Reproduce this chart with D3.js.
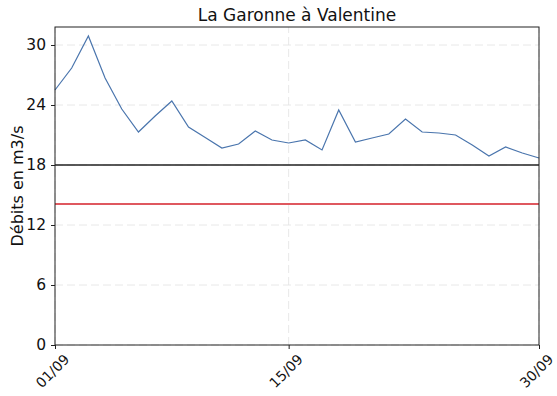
<!DOCTYPE html>
<html>
<head>
<meta charset="utf-8">
<script src="https://cdn.jsdelivr.net/npm/d3@7"></script>
<style>
  html, body { margin: 0; padding: 0; background: #fff; }
  svg { display: block; font-family: "DejaVu Sans", sans-serif; }
</style>
</head>
<body>
<svg id="chart" width="557" height="396"></svg>
<script>
// Daily discharge of the Garonne at Valentine, September
const days = d3.range(1, 31);
const debits = [25.5, 27.7, 30.9, 26.7, 23.6, 21.3, 22.9, 24.4, 21.8, 20.75,
                19.7, 20.1, 21.4, 20.5, 20.2, 20.5, 19.5, 23.5, 20.3, 20.7,
                21.1, 22.6, 21.3, 21.2, 21.0, 20.0, 18.9, 19.8, 19.2, 18.7];
const seuilNoir = 18.0;   // reference threshold (black)
const seuilRouge = 14.1;  // alert threshold (red)
const yTicks = [0, 6, 12, 18, 24, 30];
const xTicks = [1, 15, 30];
const xTickLabels = ["01/09", "15/09", "30/09"];
const titre = "La Garonne à Valentine";
const yTitre = "Débits en m3/s";

const svg = d3.select("#chart");
const margin = { left: 55, right: 18, top: 27, bottom: 51 };
const W = 557, H = 396;
const x0 = margin.left, x1 = W - margin.right;
const y0 = H - margin.bottom, y1 = margin.top;

const x = d3.scaleLinear().domain([1, 30]).range([x0, x1]);
const y = d3.scaleLinear().domain([0, 31.8]).range([y0, y1]);

// grid
const grid = svg.append("g").attr("stroke", "#e2e2e2").attr("stroke-width", 0.8)
  .attr("stroke-dasharray", "8,4");
grid.selectAll("line.h").data(yTicks).join("line")
  .attr("x1", x0).attr("x2", x1)
  .attr("y1", d => y(d)).attr("y2", d => y(d));
grid.selectAll("line.v").data(xTicks).join("line")
  .attr("x1", d => x(d)).attr("x2", d => x(d))
  .attr("y1", y0).attr("y2", y1);

// thresholds
svg.append("line").attr("x1", x0).attr("x2", x1)
  .attr("y1", y(seuilNoir)).attr("y2", y(seuilNoir))
  .attr("stroke", "#222").attr("stroke-width", 1.6);
svg.append("line").attr("x1", x0).attr("x2", x1)
  .attr("y1", y(seuilRouge)).attr("y2", y(seuilRouge))
  .attr("stroke", "#d4202a").attr("stroke-width", 1.6);

// discharge series
svg.append("path")
  .datum(days.map((d, i) => [d, debits[i]]))
  .attr("fill", "none")
  .attr("stroke", "#4a75ad")
  .attr("stroke-width", 1.2)
  .attr("d", d3.line().x(d => x(d[0])).y(d => y(d[1])));

// axes
const yAxis = svg.append("g").attr("transform", `translate(${x0},0)`)
  .call(d3.axisLeft(y).tickValues(yTicks).tickSize(4).tickPadding(5));
const xAxis = svg.append("g").attr("transform", `translate(0,${y0})`)
  .call(d3.axisBottom(x).tickValues(xTicks).tickSize(4)
    .tickFormat((d, i) => xTickLabels[i]));
[yAxis, xAxis].forEach(a => {
  a.select(".domain").remove();
  a.selectAll("text").attr("fill", "#111")
    .attr("font-family", "DejaVu Sans, sans-serif");
  a.selectAll("line").attr("stroke", "#222");
});
yAxis.selectAll("text").attr("font-size", 15.5);
xAxis.selectAll("text")
  .attr("font-size", 14)
  .attr("text-anchor", "middle")
  .attr("y", 0).attr("x", 0).attr("dy", "0.35em")
  .attr("transform", "translate(-3,26) rotate(-45)");

// frame
svg.append("rect").attr("x", x0).attr("y", y1)
  .attr("width", x1 - x0).attr("height", y0 - y1)
  .attr("fill", "none").attr("stroke", "#222").attr("stroke-width", 1);

// titles
svg.append("text").attr("x", (x0 + x1) / 2).attr("y", 21)
  .attr("text-anchor", "middle").attr("font-size", 17).attr("fill", "#111")
  .text(titre);
svg.append("text")
  .attr("transform", `translate(23,${(y0 + y1) / 2}) rotate(-90)`)
  .attr("text-anchor", "middle").attr("font-size", 16).attr("fill", "#111")
  .text(yTitre);
</script>
</body>
</html>
